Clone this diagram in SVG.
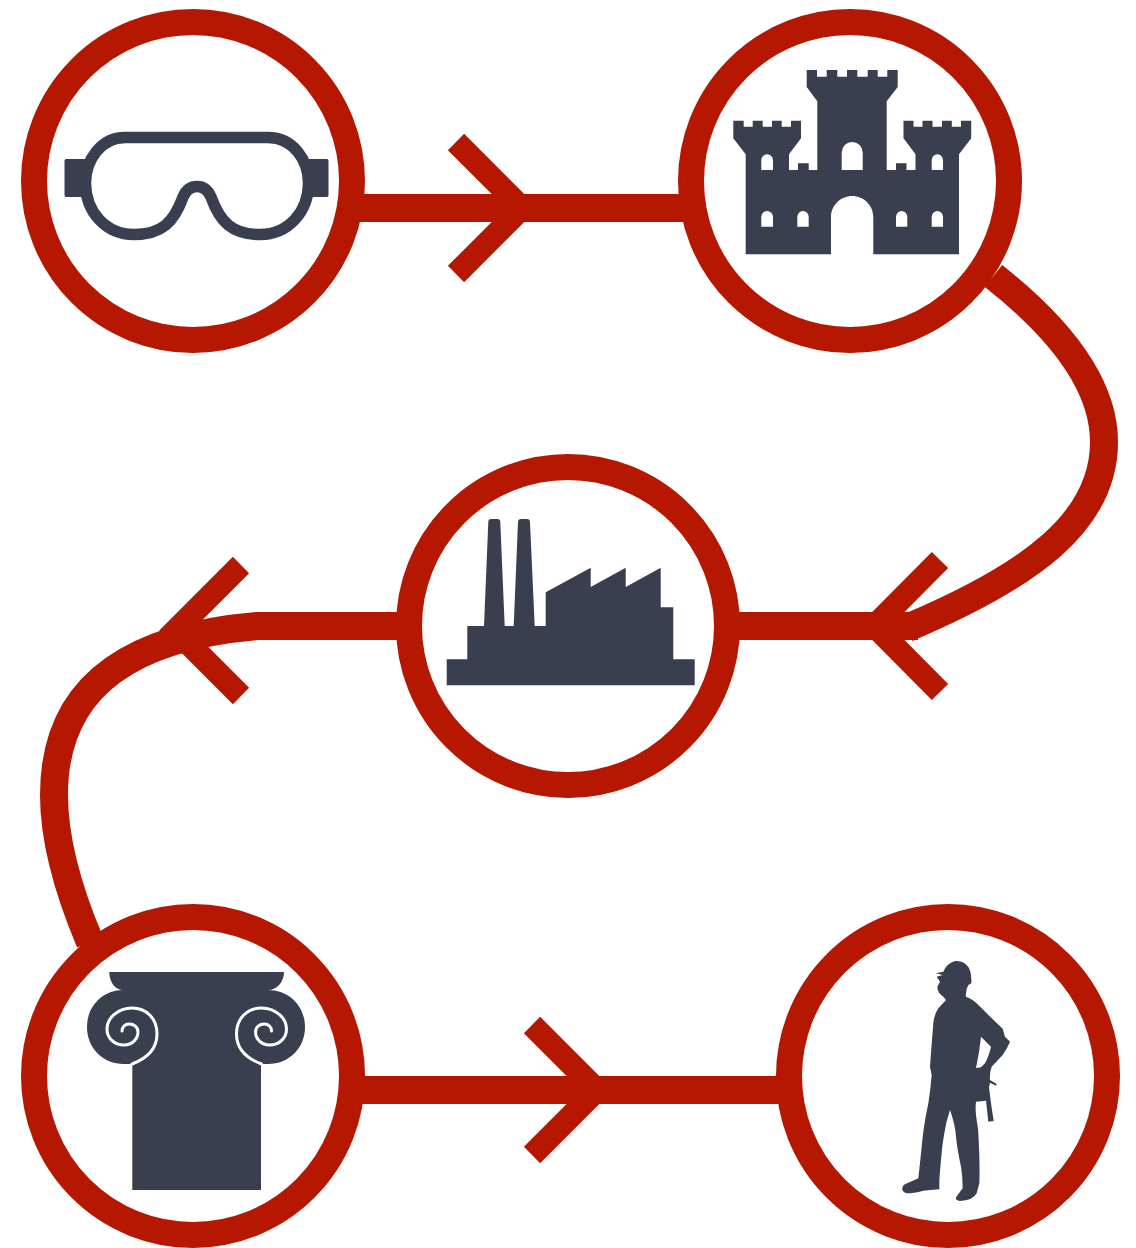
<svg xmlns="http://www.w3.org/2000/svg" width="1136" height="1248" viewBox="0 0 1136 1248">
<style>
.ring{fill:#fff;stroke:#b51700;stroke-width:26}
.icon{fill:#3a3f50}
.win{fill:#fff}
.line{fill:none;stroke:#b51700;stroke-width:28}
.head{fill:none;stroke:#b51700;stroke-width:23;stroke-miterlimit:10}
.spiral{fill:none;stroke:#fff;stroke-width:3;stroke-linecap:round}
</style>
<rect width="1136" height="1248" fill="#fff"/>
<g id="connectors">
<path class="line" d="M350,208H695"/>
<path class="head" d="M456,142L522,208L456,274"/>
<path class="line" d="M993.500,276C1062,330 1104,385 1104,442C1104,522 1030,576 907,628"/>
<path class="line" d="M725,626H918"/>
<path class="head" d="M940,560L874.500,626L940,692"/>
<path class="line" d="M410,626H255"/>
<path class="line" d="M257,626C140,636 54,680 54,795C54,840 68,890 90,942"/>
<path class="head" d="M241,565L175.500,630.500L241,696"/>
<path class="line" d="M350,1090H790"/>
<path class="head" d="M532,1025L597,1090L532,1155"/>
</g>
<g id="goggles">
<circle class="ring" cx="193" cy="181" r="159"/>
<path class="icon" d="M66,159H90V197H66Q64.500,197 64.500,195V161Q64.500,159 66,159ZM304,159H327Q328.500,159 328.500,161V195Q328.500,197 327,197H304Z"/>
<path fill="none" stroke="#3a3f50" stroke-width="11.500" d="M125,137.500L268,137.500C293,137.500 308.500,160 308.500,183C308.500,212 288,234.500 260,234.500C232,234.500 220,222 211,197C208,190 204,186.500 197,186.500C190,186.500 186,190 183,197C174,222 162,234.500 134,234.500C106,234.500 85.500,212 85.500,183C85.500,160 101,137.500 125,137.500Z"/>
</g>
<g id="castle">
<circle class="ring" cx="850" cy="181" r="159"/>
<path class="icon" d="M806.700,70H817V76.700H826.700V70H837.300V76.700H847V70H857.300V76.700H867.700V70H877.700V76.700H887.300V70H897.700V87L886.700,101.300V170H896V163.300H906.500V170H915.500V154.300L903.500,138.300V120.700H913.500V126.700H922.500V120.700H932.500V126.700H942V120.700H951.800V126.700H961V120.700H971.200V138.300L959,154.300V254.300H873.300V217C873.300,205.400 863.900,196 852.200,196C840.500,196 831,205.400 831,217V254.300H745.700V154.300L733.300,138.300V120.700H743.700V126.700H752.700V120.700H762.700V126.700H772V120.700H781.700V126.700H791V120.700H801V138.300L789,154.300V170H798V163.300H808.700V170H817.300V101.300L806.700,87Z"/>
<path class="win" d="M841.700,170V152.500A10.500,10.500 0 0 1 862.700,152.500V170Z"/>
<path class="win" d="M761.300,170V160.200A5.850,5.850 0 0 1 773,160.200V170Z"/>
<path class="win" d="M931.700,170V160.200A5.650,5.850 0 0 1 943,160.200V170Z"/>
<path class="win" d="M761.300,226.700V216.900A5.850,5.850 0 0 1 773,216.900V226.700Z"/>
<path class="win" d="M797.300,226.700V216.900A5.700,5.850 0 0 1 808.700,216.900V226.700Z"/>
<path class="win" d="M896,226.700V216.900A5.650,5.850 0 0 1 907.300,216.900V226.700Z"/>
<path class="win" d="M931.700,226.700V216.900A5.650,5.850 0 0 1 943,216.900V226.700Z"/>
</g>
<g id="factory">
<circle class="ring" cx="568" cy="626" r="159"/>
<path class="icon" d="M446.700,685.300V659.300H467.300V626H484L488.300,522Q488.400,519 491,519H497.500Q500.200,519 500.300,522L504.700,626H513.700L518,522Q518.100,519 521,519H527Q529.900,519 530,522L534.700,626H545.700V592.300L590.700,567.700V587L625.700,567.700V587L660.700,567.700V607.300H673.300V659.300H694.700V685.300Z"/>
</g>
<g id="column">
<circle class="ring" cx="193" cy="1076" r="159"/>
<path class="icon" d="M109.300,972H284C284,982 277,990 268,990C289,990 305,1006 305,1027C305,1048 289,1064 268,1064H261V1190H132.300V1064H124C103,1064 87,1048 87,1027C87,1006 103,990 123,990C115,990 109.300,982 109.300,972Z"/>
<path class="spiral" d="M132,1064C148,1058 157,1048 157,1034C157,1018 146,1008 132,1008C118,1008 107,1018 107,1029C107,1038 114,1045 124,1045C132,1045 138,1039 138,1032C138,1027 134,1024 129,1024C125,1024 122,1027 122,1031"/>
<path class="spiral" transform="translate(393.500 0) scale(-1 1)" d="M132,1064C148,1058 157,1048 157,1034C157,1018 146,1008 132,1008C118,1008 107,1018 107,1029C107,1038 114,1045 124,1045C132,1045 138,1039 138,1032C138,1027 134,1024 129,1024C125,1024 122,1027 122,1031"/>
</g>
<g id="worker">
<circle class="ring" cx="948" cy="1076" r="159"/>
<path class="icon" fill-rule="evenodd" transform="translate(880 940) scale(.33333)" d="M167,100L190,95Q198,72 225,63Q252,60 267,84Q276,102 274,130L265,135Q256,150 258,170Q280,178 296,196Q330,230 368,266L375,290L390,305Q382,325 368,345L335,380Q328,400 330,420L350,432L348,437L330,428Q326,440 328,450L333,490L341,543L325,545L318,482L288,485Q285,510 290,540Q296,570 296,600Q300,670 298,730L290,760Q278,782 240,783Q225,780 228,772L248,745Q248,710 243,680Q232,630 228,590Q226,555 210,510Q198,545 193,580Q186,620 185,640Q180,690 178,720L178,748Q150,750 130,752Q100,760 80,760Q65,755 67,745Q68,735 78,731L115,715Q120,670 125,620Q130,560 145,490Q152,445 155,405L150,380Q155,310 160,250Q162,225 175,205L198,180Q190,170 178,160Q172,150 172,140L180,125L170,110L188,105ZM303,290L333,320Q326,350 315,370L303,382L288,384Q298,340 303,290Z"/>
</g>
</svg>
